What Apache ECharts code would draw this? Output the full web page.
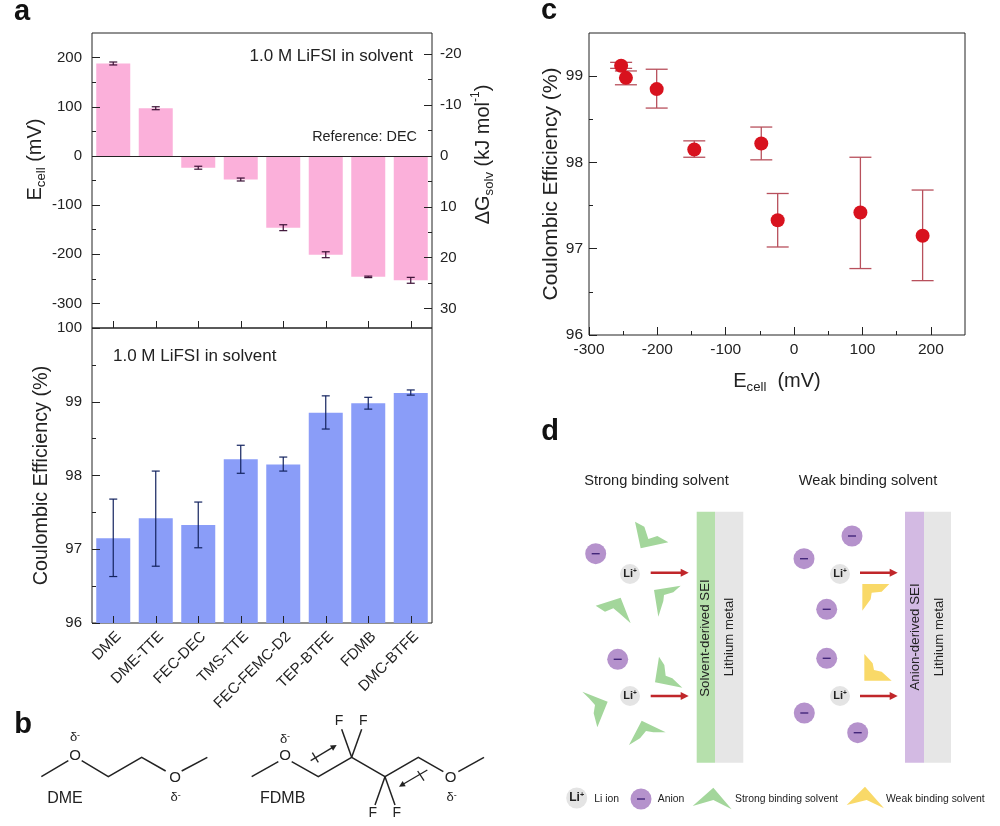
<!DOCTYPE html>
<html><head><meta charset="utf-8">
<script src="https://cdn.jsdelivr.net/npm/echarts@6/dist/echarts.min.js"></script>
<style>html,body{margin:0;padding:0;background:#fff}#c{width:1000px;height:826px}</style>
</head><body><div id="c"></div>
<script>
const categories = ['DME','DME-TTE','FEC-DEC','TMS-TTE','FEC-FEMC-D2','TEP-BTFE','FDMB','DMC-BTFE'];
const ecellValues = [188,97,-24,-48,-146,-201,-246,-253];
const ecellErrors = [3,3,3,3,6,6,1.5,6];
const ceValues = [97.15,97.42,97.33,98.22,98.15,98.85,98.98,99.12];
const ceLow = [96.63,96.77,97.02,98.03,98.06,98.63,98.90,99.09];
const ceHigh = [97.68,98.06,97.64,98.41,98.25,99.08,99.06,99.16];
const ecellTicks = [-300,-200,-100,0,100,200];
const ecellMinor = [-250,-150,-50,50,150];
const dgTicks = [-20,-10,0,10,20,30];
const dgMinor = [-15,-5,5,15,25];
const ceTicks = [96,97,98,99,100];
const ceMinor = [96.5,97.5,98.5,99.5];
const ceTicksC = [96,97,98,99];
const ceMinorC = [96.5,97.5,98.5];
const xTicksC = [-300,-200,-100,0,100,200];
const xMinorC = [-250,-150,-50,50,150];

const FONT = '"Liberation Sans",Arial,sans-serif';
const INK = '#222';
const nameRich = size => ({
  a:{fontFamily:FONT,fontSize:size,color:INK,lineHeight:size+6},
  s:{fontFamily:FONT,fontSize:size*0.66,color:INK,verticalAlign:'bottom',lineHeight:size+2},
  p:{fontFamily:FONT,fontSize:size*0.6,color:INK,verticalAlign:'top',lineHeight:size+6}
});
const axisBase = (o) => Object.assign({
  type:'value', axisLine:{show:false,onZero:false}, splitLine:{show:false}, z:5, silent:true
}, o);
function valueAxes(o){
  // one axis carries the labels and long ticks, its twin only the short minor ticks
  const common = {gridIndex:o.grid,position:o.position,min:o.min,max:o.max,inverse:!!o.inverse};
  const major = axisBase(Object.assign({},common,{
    axisTick:{show:true,inside:true,length:8,lineStyle:{color:INK,width:1},customValues:o.ticks},
    axisLabel:{show:true,margin:o.margin||10,fontFamily:FONT,fontSize:o.labelSize||15,color:INK,customValues:o.ticks,hideOverlap:false,showMinLabel:true,showMaxLabel:true},
    name:o.name,nameLocation:'middle',nameGap:o.nameGap,nameRotate:o.nameRotate,
    nameTextStyle:o.nameStyle
  }));
  const minor = axisBase(Object.assign({},common,{
    axisTick:{show:true,inside:true,length:4,lineStyle:{color:INK,width:1},customValues:o.minor},
    axisLabel:{show:false}
  }));
  return [major,minor];
}

const errorSeries = (xi,yi,data,color,cap,lw,z) => ({
  type:'custom', xAxisIndex:xi, yAxisIndex:yi, data, z:z||6, silent:true, clip:false,
  encode:{x:0,y:[1,2]},
  renderItem(params,api){
    const lo = api.coord([api.value(0),api.value(1)]);
    const hi = api.coord([api.value(0),api.value(2)]);
    const st = {stroke:color,lineWidth:lw,fill:null};
    const l = (x1,y1,x2,y2)=>({type:'line',shape:{x1,y1,x2,y2},style:st});
    return {type:'group',children:[
      l(lo[0],lo[1],hi[0],hi[1]),
      l(lo[0]-cap,lo[1],lo[0]+cap,lo[1]),
      l(hi[0]-cap,hi[1],hi[0]+cap,hi[1])
    ]};
  }
});

const yTop = valueAxes({grid:0,position:'left',min:-350,max:250,ticks:ecellTicks,minor:ecellMinor,
  name:'{a|E}{s|cell}{a| (mV)}',nameGap:35,nameRotate:90,nameStyle:{rich:nameRich(20),padding:[0,0,0,42]}});
const yTopR = valueAxes({grid:0,position:'right',min:-24.17,max:33.83,inverse:true,ticks:dgTicks,minor:dgMinor,margin:8,
  name:'{a|ΔG}{s|solv}{a| (kJ mol}{p|-1}{a|)}',nameGap:38,nameRotate:90,nameStyle:{rich:nameRich(20),padding:[0,0,0,52]}});
const yBot = valueAxes({grid:1,position:'left',min:96,max:100,ticks:ceTicks,minor:ceMinor,
  name:'Coulombic Efficiency (%)',nameGap:40,nameRotate:90,nameStyle:{fontFamily:FONT,fontSize:19.8,color:INK}});
const yC = valueAxes({grid:2,position:'left',min:96,max:99.5,ticks:ceTicksC,minor:ceMinorC,margin:6,labelSize:15.5,
  name:'Coulombic Efficiency (%)',nameGap:25,nameRotate:90,nameStyle:{fontFamily:FONT,fontSize:21,color:INK}});
const xC = valueAxes({grid:2,position:'bottom',min:-300,max:250,ticks:xTicksC,minor:xMinorC,margin:7,labelSize:15.5,
  name:'{a|E}{s|cell}{a|  (mV)}',nameGap:33,nameStyle:{rich:nameRich(20)}});

const catAxis = (grid,labels) => ({
  type:'category',gridIndex:grid,data:categories,position:'bottom',z:5,silent:true,
  axisLine:{show:false,onZero:false},
  axisTick:{show:true,inside:true,length:7,alignWithLabel:true,lineStyle:{color:INK}},
  axisLabel:{show:labels,interval:0,rotate:45,margin:6,verticalAlign:'top',fontFamily:FONT,fontSize:15,color:INK},
  splitLine:{show:false}
});

const xAxes = [catAxis(0,false),catAxis(1,true),xC[0],xC[1]];
const yAxes = [yTop[0],yTop[1],yTopR[0],yTopR[1],yBot[0],yBot[1],yC[0],yC[1]];
const border = {show:true,borderColor:INK,borderWidth:1,backgroundColor:'transparent'};

const G = [];
const txt = (x,y,text,size,o) => G.push(Object.assign({type:'text',x,y,silent:true,z:20,rotation:(o&&o.rot)||0,
  style:{text,fontFamily:FONT,fontSize:size,fill:(o&&o.fill)||INK,fontWeight:(o&&o.weight)||'normal',
    align:(o&&o.align)||'center',verticalAlign:'middle',rich:o&&o.rich}}));
const pline = (pts,color,w) => G.push({type:'polyline',silent:true,z:20,shape:{points:pts},style:{stroke:color,lineWidth:w,fill:null,lineJoin:'miter'}});
const poly = (pts,color) => G.push({type:'polygon',silent:true,z:20,shape:{points:pts},style:{fill:color}});
const circ = (x,y,r,color) => G.push({type:'circle',silent:true,z:19,shape:{cx:x,cy:y,r},style:{fill:color}});
const rect = (x,y,w,h,color) => G.push({type:'rect',silent:true,z:18,shape:{x,y,width:w,height:h},style:{fill:color}});
const arrow = (x1,y1,x2,y2,color,w,hl,hw) => {
  const a=Math.atan2(y2-y1,x2-x1),c=Math.cos(a),s=Math.sin(a);
  pline([[x1,y1],[x2-c*hl*0.7,y2-s*hl*0.7]],color,w);
  poly([[x2,y2],[x2-c*hl-s*hw,y2-s*hl+c*hw],[x2-c*hl+s*hw,y2-s*hl-c*hw]],color);
};

// panel letters and annotations
txt(22,12,'a',29,{weight:'bold',fill:'#111'});
txt(23,725,'b',29,{weight:'bold',fill:'#111'});
txt(549,11,'c',29,{weight:'bold',fill:'#111'});
txt(550,432,'d',29,{weight:'bold',fill:'#111'});
txt(413,56,'1.0 M LiFSI in solvent',17,{align:'right'});
txt(417,137,'Reference: DEC',14.4,{align:'right'});
txt(113,356,'1.0 M LiFSI in solvent',17,{align:'left'});

// panel b
const Z = (x,y) => [x/3,690+y/3];
const zl = (arr,w,c) => pline(arr.map(p=>Z(p[0],p[1])),c||'#222',w||1.5);
const dRich = {d:{fontFamily:FONT,fontSize:13,color:'#222'},m:{fontFamily:FONT,fontSize:9,color:'#222',verticalAlign:'top',lineHeight:13}};
const delta = (x,y)=>{const p=Z(x,y);txt(p[0],p[1],'{d|δ}{m|-}',13,{rich:dRich});};
const at = (x,y,t,s)=>{const p=Z(x,y);txt(p[0],p[1],t,s);};
zl([[124,260],[205,212]]); zl([[245,212],[325,260],[425,202],[497,243]]); zl([[545,243],[622,202]]);
at(225,198,'O',15); at(525,265,'O',15); delta(225,142); delta(527,322); at(195,325,'DME',16);
zl([[755,260],[835,215]]); zl([[875,215],[955,260],[1055,202],[1155,260],[1255,202],[1330,245]]); zl([[1375,245],[1452,202]]);
zl([[1055,202],[1025,118]]); zl([[1055,202],[1085,118]]); zl([[1155,260],[1125,345]]); zl([[1155,260],[1185,345]]);
at(1017,92,'F',14); at(1090,92,'F',14); at(1118,370,'F',14); at(1190,370,'F',14);
at(855,198,'O',15); at(1352,265,'O',15); delta(855,147); delta(1355,322); at(848,325,'FDMB',16);
arrow(...Z(932,212),...Z(1010,165),'#222',1.3,6,3); zl([[937,188],[955,217]],1.3);
arrow(...Z(1282,240),...Z(1197,290),'#222',1.3,6,3); zl([[1253,243],[1272,272]],1.3);

// panel d
const GREEN='#a3d69b', YEL='#f9d968', PUR='#b592cc', GREY='#e4e4e4', RED='#c0262a';
txt(656.5,481,'Strong binding solvent',14.6); txt(868,481,'Weak binding solvent',14.6);
rect(696.7,511.7,18.3,251,'#b6e0ac'); rect(715,511.7,28.3,251,'#e6e6e6');
rect(905,511.7,19,251,'#d3bae3'); rect(924,511.7,27,251,'#e6e6e6');
const rot=Math.PI/2;
txt(705.7,638,'Solvent-derived SEI',13.3,{rot}); txt(729,637,'Lithium metal',13.2,{rot});
txt(915,637,'Anion-derived SEI',13.3,{rot}); txt(939,637,'Lithium metal',13.2,{rot});
const liRich = s=>({l:{fontFamily:FONT,fontSize:s,fontWeight:'bold',color:'#222'},p:{fontFamily:FONT,fontSize:s*0.6,fontWeight:'bold',color:'#222',verticalAlign:'top',lineHeight:s+1}});
const li=(x,y,r,s)=>{circ(x,y,r,GREY);txt(x,y,'{l|Li}{p|+}',s,{rich:liRich(s)});};
const an=(x,y,r)=>{circ(x,y,r,PUR);pline([[x-4,y],[x+4,y]],'#43267a',1.4);};
li(630,574,10,11); li(630,696,10,11); li(840,574,10,11); li(840,696,10,11);
[[595.7,553.7],[617.7,659.3],[852,536],[804,558.7],[826.7,609.3],[826.7,658.3],[804.3,713],[857.7,732.7]].forEach(p=>an(p[0],p[1],10.5));
[[650.7,572.7,688.7],[650.7,696,688.7],[860,572.7,897.7],[860,696,897.7]].forEach(a=>arrow(a[0],a[1],a[2],a[1],RED,2.5,8,4));
const from=(ox,oy,pts)=>pts.map(p=>[ox+p[0]/3,oy+p[1]/3]);
[[[165,20],[182,100],[265,82],[232,63],[205,72],[193,35]],
 [[302,212],[222,225],[235,305],[250,258],[252,240],[280,232]],
 [[47,272],[122,248],[152,325],[118,295],[100,280],[75,290]]].forEach(s=>poly(from(580,515,s),GREEN));
[[[252,35],[240,112],[322,128],[292,100],[272,92],[268,60]],
 [[22,140],[98,170],[67,247],[56,205],[60,180],[42,160]],
 [[162,300],[200,227],[272,262],[235,262],[213,258],[195,280]]].forEach(s=>poly(from(575,645,s),GREEN));
[[[118,42],[37,42],[37,122],[62,88],[65,68],[95,65]],
 [[43,252],[43,332],[125,332],[95,305],[72,300],[68,280]]].forEach(s=>poly(from(850,570,s),YEL));
poly(from(530,410,[[488,1188],[550,1133],[605,1198],[550,1170]]),GREEN);
poly(from(760,410,[[260,1185],[315,1130],[372,1195],[320,1170]]),YEL);
li(576.7,798,10.5,12); txt(606.7,799,'Li ion',10.4); an(641,799,10.5); txt(671,799,'Anion',10.4);
txt(735,799,'Strong binding solvent',10.4,{align:'left'}); txt(886,799,'Weak binding solvent',10.4,{align:'left'});

const chart = echarts.init(document.getElementById('c'),null,{renderer:'canvas'});
chart.setOption({
  animation:false,
  backgroundColor:'#fff',
  grid:[
    Object.assign({left:92,top:33,width:340,height:295},border),
    Object.assign({left:92,top:328,width:340,height:295},border),
    Object.assign({left:589,top:33,width:376,height:302},border)
  ],
  xAxis:xAxes, yAxis:yAxes,
  series:[
    {type:'bar',xAxisIndex:0,yAxisIndex:0,data:ecellValues,barWidth:'80%',itemStyle:{color:'#fbb0da'},z:2,silent:true,
     markLine:{silent:true,symbol:'none',label:{show:false},animation:false,lineStyle:{color:INK,width:1,type:'solid'},data:[{yAxis:0}]}},
    errorSeries(0,0,ecellValues.map((v,i)=>[i,v-ecellErrors[i],v+ecellErrors[i]]),'#3b1035',4,1.2),
    {type:'bar',xAxisIndex:1,yAxisIndex:4,data:ceValues,barWidth:'80%',itemStyle:{color:'#8a9df8'},z:2,silent:true},
    errorSeries(1,4,ceValues.map((v,i)=>[i,ceLow[i],ceHigh[i]]),'#13235f',4,1.2),
    errorSeries(2,6,ceValues.map((v,i)=>[ecellValues[i],ceLow[i],ceHigh[i]]),'#b8505c',11,1.3,3),
    {type:'scatter',xAxisIndex:2,yAxisIndex:6,data:ceValues.map((v,i)=>[ecellValues[i],v]),symbol:'circle',symbolSize:14,
     itemStyle:{color:'#d8121e',opacity:1},z:6,silent:true}
  ],
  graphic:{elements:G}
});
</script></body></html>
